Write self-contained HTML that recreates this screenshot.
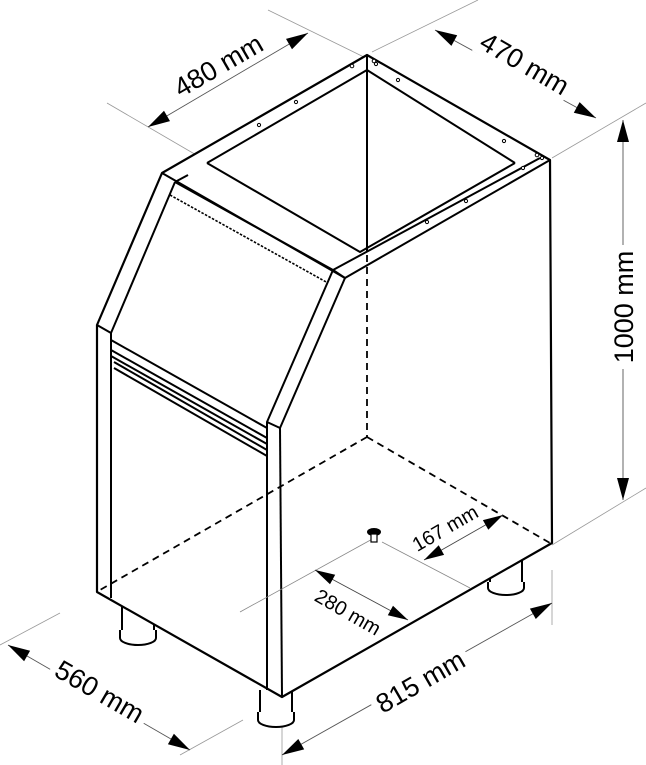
<!DOCTYPE html>
<html><head><meta charset="utf-8"><style>
html,body{margin:0;padding:0;background:#fff}
svg{display:block}
text{font-family:"Liberation Sans",Arial,sans-serif;fill:#000}
</style></head><body>
<svg width="646" height="765" viewBox="0 0 646 765" xmlns="http://www.w3.org/2000/svg">
<g stroke="#999" stroke-width="0.8" fill="none">
<line x1="107" y1="103" x2="210" y2="163"/>
<line x1="268" y1="10" x2="370" y2="60"/>
<line x1="372" y1="52" x2="478" y2="0"/>
<line x1="552" y1="158" x2="646" y2="103"/>
<line x1="552" y1="545" x2="646" y2="488"/>
<line x1="282" y1="700" x2="282" y2="765"/>
<line x1="552" y1="570" x2="552" y2="625"/>
<line x1="0" y1="645" x2="60" y2="613"/>
<line x1="180" y1="755" x2="243" y2="720"/>
</g>
<g stroke="#555" stroke-width="0.9" fill="none">
<line x1="148" y1="127" x2="308" y2="33"/>
<line x1="435" y1="30" x2="596" y2="118"/>
<line x1="623" y1="120" x2="623" y2="500"/>
<line x1="282" y1="755" x2="552" y2="603"/>
<line x1="8" y1="645" x2="190" y2="750"/>
</g>
<g fill="#000">
<polygon points="308,33 292,49.3 286,38.9"/>
<polygon points="148,127 170,121.1 164,110.7"/>
<polygon points="596,118 573.8,112.7 579.6,102.1"/>
<polygon points="435,30 451.4,45.9 457.2,35.3"/>
<polygon points="623,120 617,142 629,142"/>
<polygon points="623,500 617,478 629,478"/>
<polygon points="552,603 535.8,619 529.9,608.6"/>
<polygon points="282,755 304.2,749.4 298.3,739"/>
<polygon points="190,750 167.9,744.2 173.9,733.8"/>
<polygon points="8,645 24.1,661.2 30.1,650.8"/>
</g>
<g fill="#fff">
<rect x="168" y="49" width="100" height="32" transform="rotate(-30 218 65)"/>
<rect x="473" y="47" width="104" height="32" transform="rotate(30 525 63)"/>
<rect x="607" y="245" width="32" height="124"/>
<rect x="366" y="665" width="108" height="34" transform="rotate(-30 420 681)"/>
<rect x="46" y="675" width="108" height="34" transform="rotate(30 100 691)"/>
</g>
<g stroke="#000" stroke-width="2" fill="#fff">
<path d="M122,600 V630 A16,6 0 0 0 154,630 V608"/>
<path d="M120,630 V638 A18,7 0 0 0 156,638 V630"/>
<path d="M260,690 V712 A16,6 0 0 0 292,712 V690"/>
<path d="M258,712 V720 A18,7 0 0 0 294,720 V712"/>
<path d="M490,560 V582 A16,6 0 0 0 522,582 V560"/>
<path d="M488,582 V588 A18,7 0 0 0 524,588 V582"/>
</g>
<g stroke="#000" stroke-width="2.2" fill="#fff" stroke-linejoin="round">
<polygon points="162,173 367,55 550,160 552,543 282,697 97,592 97,325"/>
</g>
<g stroke="#000" stroke-width="2" fill="none" stroke-linejoin="round">
<polyline points="162,173 345,278 550,160"/>
<polyline points="175,182 333,270 345,278"/>
<polyline points="207,163 360,252 515,163"/>
<polyline points="207,163 367,70 515,163"/>
<line x1="367" y1="70" x2="367" y2="252"/>
<line x1="367" y1="55" x2="367" y2="70"/>
<line x1="175" y1="182" x2="188" y2="175"/>
<line x1="333" y1="270" x2="540" y2="158"/>
<polyline points="175,182 111,333 97,325"/>
<polyline points="333,270 267,422 280,428 345,278"/>
<line x1="111" y1="333" x2="111" y2="598"/>
<line x1="267" y1="422" x2="267" y2="690"/>
<line x1="280" y1="428" x2="282" y2="697"/>
<line x1="111" y1="340" x2="267" y2="428"/>
<line x1="111" y1="350" x2="267" y2="438"/>
<line x1="111" y1="356" x2="267" y2="444"/>
<line x1="114" y1="362" x2="267" y2="450"/>
<line x1="114" y1="368" x2="267" y2="456"/>
</g>
<line x1="170" y1="195" x2="328" y2="283" stroke="#000" stroke-width="1.6" stroke-dasharray="2.5 1.5"/>
<g stroke="#000" stroke-width="1.8" fill="none" stroke-dasharray="7 5">
<line x1="367" y1="255" x2="367" y2="437"/>
<line x1="367" y1="437" x2="100" y2="590"/>
<line x1="367" y1="437" x2="550" y2="543"/>
</g>
<g stroke="#000" stroke-width="1" fill="#fff">
<circle cx="352" cy="66" r="1.8"/><circle cx="374" cy="61" r="1.8"/><circle cx="376" cy="64" r="1.6"/>
<circle cx="296" cy="102" r="1.6"/><circle cx="259" cy="125" r="1.6"/>
<circle cx="398" cy="80" r="1.6"/><circle cx="504" cy="141" r="1.6"/>
<circle cx="523" cy="168" r="1.6"/><circle cx="466" cy="201" r="1.6"/><circle cx="427" cy="222" r="1.6"/>
<circle cx="537" cy="155" r="1.8"/><circle cx="542" cy="158" r="1.6"/>
</g>
<g stroke="#888" stroke-width="0.8" fill="none">
<line x1="376" y1="537" x2="240" y2="612"/>
<line x1="382" y1="542" x2="470" y2="588"/>
</g>
<g stroke="#444" stroke-width="0.9" fill="none">
<line x1="315" y1="570" x2="408" y2="620"/>
<line x1="424" y1="560" x2="503" y2="515"/>
</g>
<g fill="#000">
<polygon points="408,620 387.8,615.3 393,605.7"/>
<polygon points="315,570 330,584.3 335.2,574.7"/>
<polygon points="503,515 488.3,529.7 482.9,520.1"/>
<polygon points="424,560 444.1,554.9 438.7,545.3"/>
</g>
<ellipse cx="374" cy="532" rx="7" ry="4" fill="#000"/>
<rect x="371" y="534" width="6" height="8" fill="#fff" stroke="#000" stroke-width="1.2"/>
<text x="218" y="75" font-size="27" text-anchor="middle" transform="rotate(-30 218 65)">480 mm</text>
<text x="525" y="73" font-size="27" text-anchor="middle" transform="rotate(30 525 63)">470 mm</text>
<text x="623" y="317" font-size="27" text-anchor="middle" transform="rotate(-90 623 307)">1000 mm</text>
<text x="420" y="691" font-size="27" text-anchor="middle" transform="rotate(-30 420 681)">815 mm</text>
<text x="100" y="701" font-size="27" text-anchor="middle" transform="rotate(30 100 691)">560 mm</text>
<text x="348" y="619" font-size="20" text-anchor="middle" transform="rotate(30 348 612)">280 mm</text>
<text x="445" y="535" font-size="20" text-anchor="middle" transform="rotate(-30 445 528)">167 mm</text>
</svg>
</body></html>
